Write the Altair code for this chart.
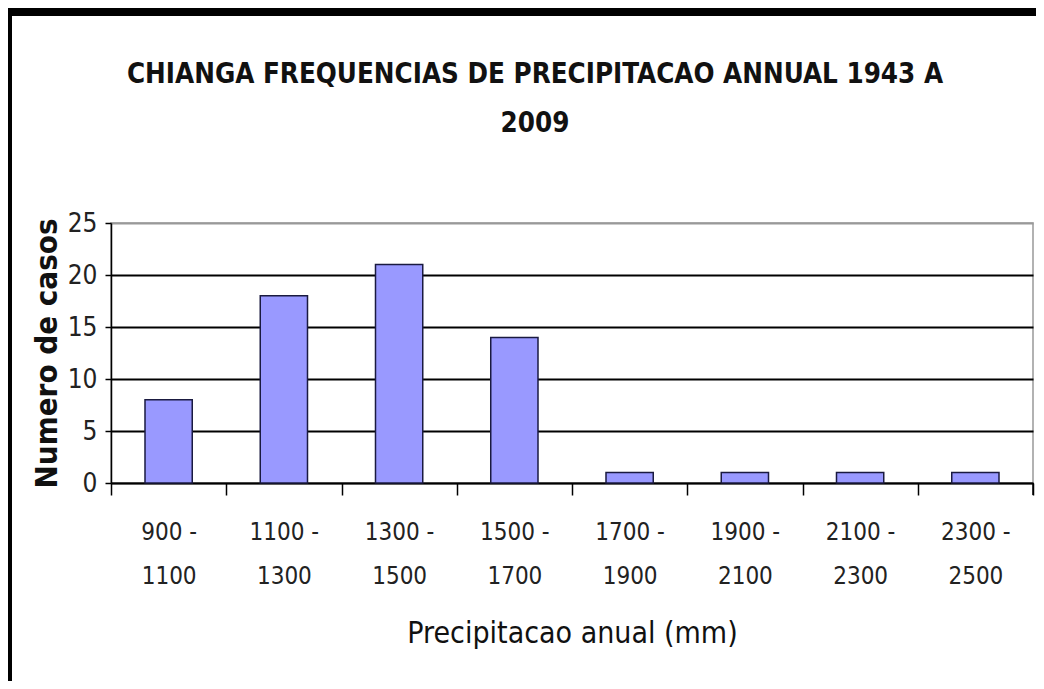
import altair as alt
import pandas as pd

categories = ["900-1100", "1100-1300", "1300-1500", "1500-1700",
              "1700-1900", "1900-2100", "2100-2300", "2300-2500"]
counts = [8, 18, 21, 14, 1, 1, 1, 1]
y_ticks = [0, 5, 10, 15, 20, 25]

title_lines = ["CHIANGA FREQUENCIAS DE PRECIPITACAO ANNUAL 1943 A", "2009"]
x_title = "Precipitacao anual (mm)"
y_title = "Numero de casos"

df = pd.DataFrame({"cat": categories, "n": counts})
last_df = pd.DataFrame({"cat": [categories[-1]]})

FONT = "Liberation Sans Narrow, DejaVu Sans Condensed, Liberation Sans, Arial"

x_scale = alt.Scale(paddingInner=0, paddingOuter=0)

bars = alt.Chart(df).mark_bar(
    color="#9999FF", stroke="#1a1a40", strokeWidth=1.5,
    width=alt.RelativeBandSize(0.41)
).encode(
    x=alt.X("cat:N", sort=categories, scale=x_scale,
            axis=alt.Axis(
                title=x_title, labelAngle=0, tickBand="extent",
                labelExpr="indexof('' + datum.label, '-') > 0 ? [split(datum.label,'-')[0] + ' -', split(datum.label,'-')[1]] : ''",
                labelLineHeight=44, labelFontSize=24, labelFont=FONT,
                labelColor="#222", labelPadding=25, labelBaseline="top",
                tickSize=12, tickColor="black", tickWidth=1.5,
                domainColor="black", domainWidth=1.5,
                titleFont=FONT, titleFontSize=30, titleFontWeight="normal",
                titleColor="#111", titlePadding=30, grid=False)),
    y=alt.Y("n:Q", scale=alt.Scale(domain=[0, 25], nice=False),
            axis=alt.Axis(
                title=y_title, values=y_ticks,
                labelFontSize=26, labelFont=FONT, labelColor="#222",
                labelPadding=8, tickSize=6, tickColor="black", tickWidth=1.5,
                domainColor="black", domainWidth=1.5,
                grid=True,
                gridColor={"condition": {"test": "datum.value >= 25", "value": "#999"},
                           "value": "black"},
                gridWidth=2,
                titleFont=FONT, titleFontSize=31, titleFontWeight="bold",
                titleColor="#111", titlePadding=4)),
)

end_tick = alt.Chart(last_df).mark_rule(color="black", strokeWidth=1.5).encode(
    x=alt.X("cat:N", sort=categories, bandPosition=1, scale=x_scale),
    y=alt.value(260), y2=alt.value(272))

frame_top = alt.Chart(df).mark_rule(color="black", strokeWidth=8).encode(
    x=alt.value(-103), x2=alt.value(940), y=alt.value(-211))
frame_left = alt.Chart(df).mark_rule(color="black", strokeWidth=8).encode(
    x=alt.value(-103), y=alt.value(-215), y2=alt.value(460))

chart = alt.layer(frame_top, frame_left, bars, end_tick).properties(
    width=922, height=260,
    padding={"left": 103, "top": 215, "right": 3, "bottom": 198},
    autosize=alt.AutoSizeParams(type="none"),
    title=alt.TitleParams(
        text=title_lines, font=FONT, fontSize=27.5, fontWeight="bold",
        color="#111", anchor="middle", dx=-37, dy=133, offset=0, lineHeight=49),
    background="white",
).configure_view(stroke="#999", strokeWidth=1.5)

chart.save("out.html", embed_options={"renderer": "svg", "actions": False})
